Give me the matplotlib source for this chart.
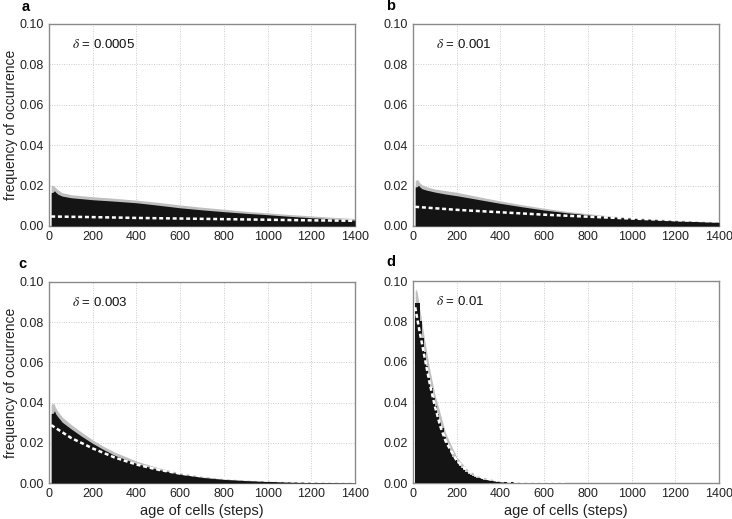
import numpy as np
import matplotlib
matplotlib.use("Agg")
import matplotlib.pyplot as plt

plt.rcParams['font.family'] = ['Liberation Sans', 'DejaVu Sans']
plt.rcParams['mathtext.fontset'] = 'stix'

# ---------------- data ----------------
panel_labels = ['a', 'b', 'c', 'd']
deltas = ['0.0005', '0.001', '0.003', '0.01']

# panel a
age_a = [10, 20, 25, 30, 40, 60, 100, 150, 200, 300, 400, 500, 600, 700, 800, 900, 1000, 1100, 1200, 1300, 1400]
black_a = [0.0165, 0.0168, 0.0175, 0.0168, 0.0158, 0.0148, 0.0140, 0.0135, 0.0130, 0.0123, 0.0115, 0.0103,
           0.0090, 0.0080, 0.0071, 0.0063, 0.0056, 0.0048, 0.0041, 0.0035, 0.0029]
gray_a = [0.0203, 0.0200, 0.0195, 0.0190, 0.0180, 0.0165, 0.0155, 0.0150, 0.0145, 0.0137, 0.0128, 0.0117,
          0.0104, 0.0093, 0.0083, 0.0073, 0.0065, 0.0057, 0.0050, 0.0043, 0.0037]
theo_age_a = [10, 200, 400, 600, 800, 1000, 1200, 1400]
theo_a = [0.0047, 0.0044, 0.0040, 0.0037, 0.0034, 0.0031, 0.0028, 0.0026]

# panel b
age_b = [10, 20, 25, 30, 40, 60, 100, 150, 200, 300, 400, 500, 600, 700, 800, 900, 1000, 1100, 1200, 1300, 1400]
black_b = [0.0193, 0.0195, 0.0202, 0.0195, 0.0185, 0.0178, 0.0168, 0.0158, 0.0150, 0.0131, 0.0112, 0.0095,
           0.0079, 0.0066, 0.0055, 0.0046, 0.0038, 0.0032, 0.0026, 0.0022, 0.0018]
gray_b = [0.0225, 0.0230, 0.0225, 0.0215, 0.0205, 0.0195, 0.0183, 0.0175, 0.0167, 0.0145, 0.0124, 0.0105,
          0.0088, 0.0073, 0.0061, 0.0050, 0.0042, 0.0036, 0.0030, 0.0025, 0.0021]
theo_age_b = [10, 200, 400, 600, 800, 1000, 1200, 1400]
theo_b = [0.0095, 0.0080, 0.0068, 0.0056, 0.0046, 0.0037, 0.0029, 0.0023]

# panel c
age_c = [10, 20, 25, 30, 40, 60, 100, 150, 200, 250, 300, 400, 500, 600, 700, 800, 900, 1000, 1100, 1200, 1300, 1400]
black_c = [0.0345, 0.0348, 0.0360, 0.0345, 0.0330, 0.0303, 0.0270, 0.0232, 0.0197, 0.0166, 0.0138, 0.0097,
           0.0067, 0.0044, 0.0028, 0.0018, 0.0012, 0.0008, 0.0005, 0.0003, 0.0002, 0.0001]
gray_c = [0.0390, 0.0398, 0.0390, 0.0375, 0.0358, 0.0328, 0.0292, 0.0252, 0.0214, 0.0182, 0.0154, 0.0109,
          0.0076, 0.0051, 0.0034, 0.0022, 0.0015, 0.0010, 0.0007, 0.0004, 0.0003, 0.0002]
theo_age_c = [10, 100, 200, 300, 400, 500, 600, 700, 800, 1000, 1200, 1400]
theo_c = [0.0288, 0.0225, 0.0172, 0.0127, 0.0092, 0.0066, 0.0047, 0.0034, 0.0024, 0.0012, 0.0006, 0.0003]

# panel d (histogram, bins of 10 steps from 10 to 600)
bin_start_d, bin_width_d = 10, 10
black_d = [0.089, 0.089, 0.080, 0.072, 0.065, 0.058, 0.052, 0.047, 0.042, 0.038,
           0.034, 0.030, 0.027, 0.023, 0.020, 0.0175, 0.0152, 0.0131, 0.0113, 0.0097,
           0.0084, 0.0072, 0.0062, 0.0054, 0.0047, 0.0041, 0.0035, 0.0031, 0.0027, 0.0023,
           0.0020, 0.0017, 0.0015, 0.0013, 0.0011, 0.0010, 0.0008, 0.0007, 0.0006, 0.0005,
           0.00045, 0.0004, 0.00035, 0.0003, 0.00025, 0.0002, 0.0002, 0.00015, 0.00012, 0.0001,
           0.00008, 0.00006, 0.00005, 0.00004, 0.00003, 0.00003, 0.00002, 0.00002, 0.00001]
gray_age_d = [10, 15, 20, 30, 50, 75, 100, 150, 200, 250, 300, 400, 500, 600]
gray_d = [0.095, 0.096, 0.094, 0.087, 0.073, 0.057, 0.044, 0.0245, 0.0128, 0.0066, 0.0034, 0.0009, 0.0003, 0.0001]
theo_age_d = [10, 25, 50, 75, 100, 125, 150, 200, 250, 300, 350, 400, 450, 500, 600, 700]
theo_d = [0.087, 0.078, 0.064, 0.050, 0.038, 0.028, 0.0205, 0.011, 0.006, 0.0033, 0.0018, 0.0010,
          0.0006, 0.0003, 0.0001, 0.0]

x_ticks = [0, 200, 400, 600, 800, 1000, 1200, 1400]
y_ticks = [0.00, 0.02, 0.04, 0.06, 0.08, 0.10]

# ---------------- figure ----------------
W, H = 732, 519
fig = plt.figure(figsize=(W / 100, H / 100), dpi=100)

def rect(l, r, t, b):
    return [l / W, (H - b) / H, (r - l) / W, (b - t) / H]

axes = [fig.add_axes(rect(49, 355, 24, 226)),
        fig.add_axes(rect(413, 719, 24, 226)),
        fig.add_axes(rect(49, 355, 282, 483)),
        fig.add_axes(rect(413, 719, 281, 483))]

BLACK = '#141414'
GRAY = '#bfbfbf'
SPINE = '#8a8a8a'

series = [(age_a, black_a, gray_a, theo_age_a, theo_a),
          (age_b, black_b, gray_b, theo_age_b, theo_b),
          (age_c, black_c, gray_c, theo_age_c, theo_c)]

for i, ax in enumerate(axes):
    ax.set_xlim(0, 1400)
    ax.set_ylim(0, 0.10)
    ax.set_xticks(x_ticks)
    ax.set_yticks(y_ticks)
    ax.set_yticklabels([f'{v:.2f}' for v in y_ticks])
    ax.set_axisbelow(True)
    ax.grid(True, color='#cccccc', linestyle=(0, (1, 1.5)), linewidth=0.7)
    ax.tick_params(length=0, labelsize=9, pad=3.5, colors='#222222')
    for s in ax.spines.values():
        s.set_color(SPINE)
        s.set_linewidth(1.0)

    if i < 3:
        age, blk, gry, tage, th = series[i]
        ax.fill_between(age, 0, gry, color=GRAY, linewidth=0, zorder=2)
        ax.fill_between(age, 0, blk, color=BLACK, linewidth=0, zorder=3)
    else:
        edges = np.arange(bin_start_d, bin_start_d + bin_width_d * (len(black_d) + 1), bin_width_d)
        ax.fill_between(gray_age_d, 0, gray_d, color=GRAY, linewidth=0, zorder=2)
        ax.stairs(black_d, edges, fill=True, color=BLACK, zorder=3)
        tage, th = theo_age_d, theo_d
    ln, = ax.plot(tage, th, color='white', linewidth=1.8, zorder=4, solid_capstyle='butt')
    ln.set_dashes((1.6, 1.1))

    ax.text(0.075, 0.90, r'$\delta$ = ' + deltas[i], transform=ax.transAxes,
            fontsize=9.5, va='center', ha='left', color='#111111')

    if i in (0, 2):
        ax.set_ylabel('frequency of occurrence', fontsize=10, labelpad=1, color='#222222')
    if i in (2, 3):
        ax.set_xlabel('age of cells (steps)', fontsize=10.5, labelpad=3, color='#222222')

label_pos = [(22, 7), (386, 6), (18, 264), (386, 262)]
for lab, (x, y) in zip(panel_labels, label_pos):
    fig.text(x / W, 1 - y / H, lab, fontsize=10.5, fontweight='bold', ha='left', va='center')

fig.savefig('out.png', dpi=100)
